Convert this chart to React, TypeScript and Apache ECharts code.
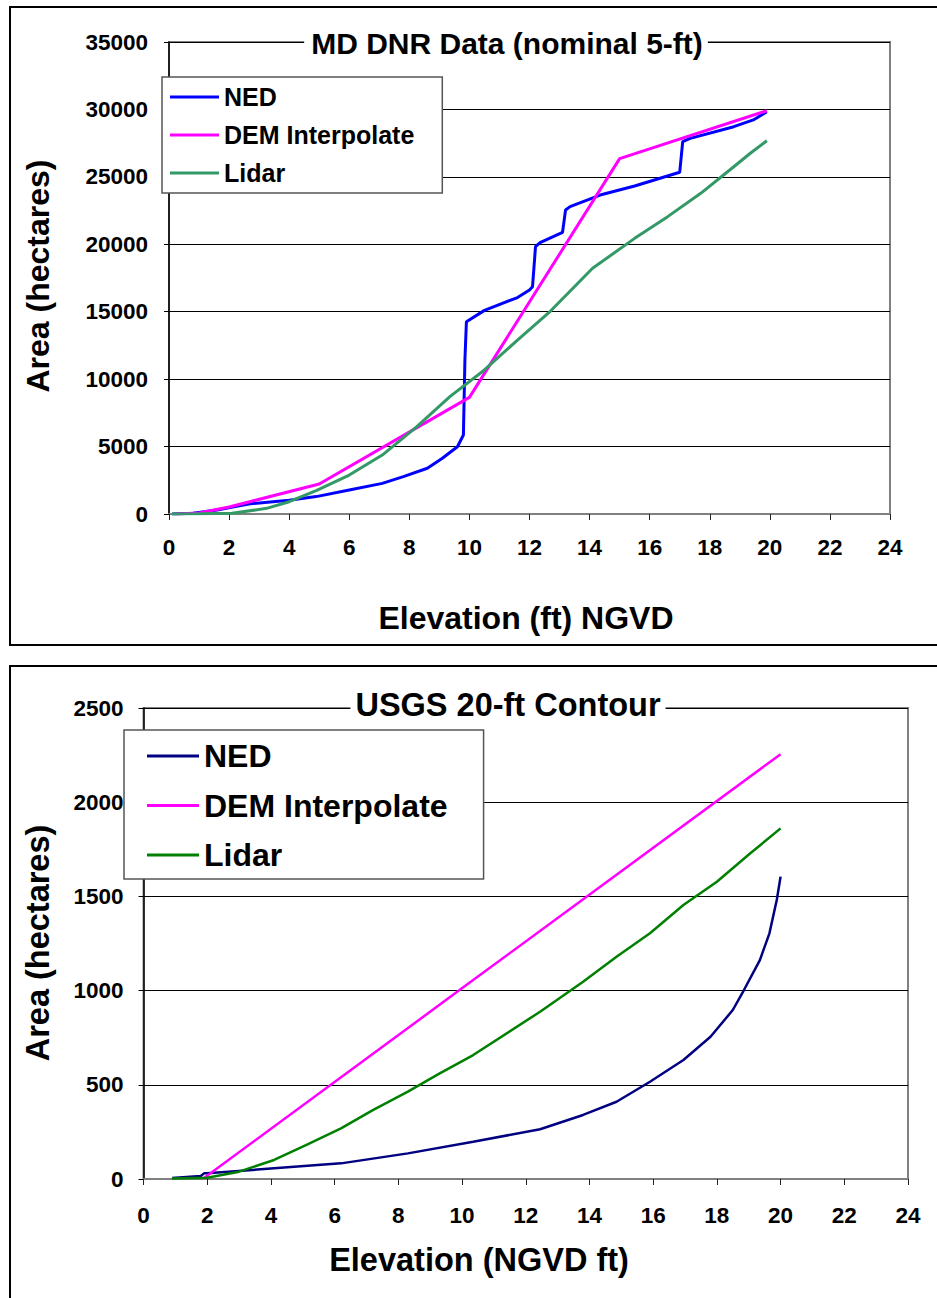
import React, { useEffect, useRef } from "react";
import * as echarts from "echarts";

const FONT = '"Liberation Sans", Arial, Helvetica, sans-serif';

// ---- Top chart (MD DNR Data) ----
const topTitle = "MD DNR Data (nominal 5-ft)";
const topXTitle = "Elevation (ft) NGVD";
const yTitle = "Area (hectares)";
const seriesNames = ["NED", "DEM Interpolate", "Lidar"];
const topColors = ["#0000FF", "#FF00FF", "#339966"];

const nedTop: number[][] = [
  [0.1, 0], [0.8, 60], [1.6, 300], [2.7, 760], [4.0, 1020], [4.9, 1290], [6.0, 1780],
  [7.1, 2270], [7.8, 2770], [8.6, 3390], [9.1, 4130], [9.6, 4990], [9.8, 5860],
  [9.85, 11420], [9.9, 14260], [10.5, 15100], [11.6, 16050], [12.0, 16610], [12.1, 16850],
  [12.2, 19820], [12.35, 20120], [13.1, 20890], [13.2, 22540], [13.35, 22790],
  [14.35, 23650], [15.5, 24320], [17.0, 25340], [17.1, 27610], [17.35, 27850],
  [18.8, 28720], [19.45, 29220], [19.9, 29830],
];
const demTop: number[][] = [
  [0.2, 0], [1.0, 80], [2.0, 520], [5.0, 2220], [10.0, 8650], [15.0, 26350], [19.9, 29900],
];
const lidarTop: number[][] = [
  [0.1, 0], [1.0, 10], [2.1, 50], [3.25, 420], [4.0, 910], [4.9, 1730], [6.0, 2890],
  [7.1, 4370], [8.25, 6480], [9.35, 8700], [10.5, 10680], [11.6, 12900], [12.7, 15050],
  [14.1, 18220], [15.5, 20440], [16.6, 22050], [17.7, 23780], [18.8, 25750],
  [19.35, 26750], [19.9, 27680],
];

// ---- Bottom chart (USGS 20-ft Contour) ----
const botTitle = "USGS 20-ft Contour";
const botXTitle = "Elevation (NGVD ft)";
const botColors = ["#000080", "#FF00FF", "#008000"];

const nedBot: number[][] = [
  [0.9, 5], [1.8, 16], [1.9, 30], [2.0, 30], [4.1, 57], [6.2, 83], [8.3, 136],
  [10.35, 198], [12.45, 264], [13.8, 340], [14.85, 410], [15.9, 516], [16.95, 632],
  [17.8, 755], [18.5, 897], [18.85, 1003], [19.35, 1162], [19.65, 1304], [19.88, 1481],
  [20.0, 1605],
];
const demBot: number[][] = [[1.9, 5], [9.9, 1000], [20.0, 2255]];
const lidarBot: number[][] = [
  [0.9, 3], [2.0, 7], [3.0, 39], [4.1, 101], [5.1, 180], [6.2, 269], [7.2, 366],
  [8.3, 464], [9.3, 561], [10.35, 658], [12.45, 888], [13.8, 1047], [14.85, 1180],
  [15.9, 1304], [16.95, 1454], [18.0, 1578], [19.05, 1729], [20.0, 1861],
];

const xMin = 0, xMax = 24, xInterval = 2;

type Cfg = {
  title: string; titleX: number; titleY: number; titleSize: number; titlePad: number[];
  xTitle: string; xTitleX: number; xTitleY: number;
  yTitleX: number; yTitleY: number; axisTitleSize: number;
  grid: { left: number; right: number; top: number; bottom: number };
  yMax: number; yInterval: number; tickSize: number; xLabelMargin: number; yLabelMargin: number;
  colors: string[]; data: number[][][]; lineWidth: number;
  legend: { left: number; top: number; fontSize: number; lineHeight: number; itemGap: number;
    itemWidth: number; padding: number[] };
  frame: { x: number; y: number; width: number; height: number };
};

function buildOption(c: Cfg): any {
  return {
    animation: false,
    backgroundColor: "#fff",
    textStyle: { fontFamily: FONT },
    grid: {
      ...c.grid,
      show: true,
      borderColor: "#808080",
      borderWidth: 2,
      backgroundColor: "transparent",
    },
    legend: {
      orient: "vertical",
      left: c.legend.left,
      top: c.legend.top,
      data: seriesNames,
      icon: "rect",
      itemWidth: c.legend.itemWidth,
      itemHeight: 3,
      itemGap: c.legend.itemGap,
      padding: c.legend.padding,
      backgroundColor: "#fff",
      borderColor: "#555",
      borderWidth: 1.5,
      textStyle: {
        fontFamily: FONT,
        fontWeight: "bold",
        fontSize: c.legend.fontSize,
        lineHeight: c.legend.lineHeight,
        color: "#000",
      },
      z: 20,
    },
    xAxis: {
      type: "value",
      min: xMin,
      max: xMax,
      interval: xInterval,
      axisLine: { show: true, onZero: false, lineStyle: { color: "#808080", width: 2 } },
      axisTick: { show: true, inside: false, length: 6, lineStyle: { color: "#222", width: 1 } },
      axisLabel: {
        margin: c.xLabelMargin,
        fontFamily: FONT,
        fontWeight: "bold",
        fontSize: c.tickSize,
        color: "#000",
        formatter: (v: number) => String(v),
      },
      splitLine: { show: false },
    },
    yAxis: {
      type: "value",
      min: 0,
      max: c.yMax,
      interval: c.yInterval,
      axisLine: { show: true, lineStyle: { color: "#000", width: 1.5 } },
      axisTick: { show: true, inside: false, length: 5, lineStyle: { color: "#000", width: 1 } },
      axisLabel: {
        margin: c.yLabelMargin,
        fontFamily: FONT,
        fontWeight: "bold",
        fontSize: c.tickSize,
        color: "#000",
        formatter: (v: number) => String(v),
      },
      splitLine: { show: true, lineStyle: { color: "#000", width: 1 } },
    },
    series: seriesNames.map((n, i) => ({
      name: n,
      type: "line",
      data: c.data[i],
      showSymbol: false,
      symbol: "none",
      color: c.colors[i],
      lineStyle: { color: c.colors[i], width: c.lineWidth },
      z: 5,
    })),
    graphic: [
      {
        type: "rect",
        z: 50,
        silent: true,
        shape: c.frame,
        style: { fill: "none", stroke: "#000", lineWidth: 2 },
      },
      {
        type: "text",
        z: 60,
        x: c.titleX,
        y: c.titleY,
        style: {
          text: c.title,
          fontFamily: FONT,
          fontWeight: "bold",
          fontSize: c.titleSize,
          fill: "#000",
          align: "center",
          verticalAlign: "middle",
          textAlign: "center",
          textVerticalAlign: "middle",
          backgroundColor: "#fff",
          padding: c.titlePad,
        },
      },
      {
        type: "text",
        z: 60,
        x: c.xTitleX,
        y: c.xTitleY,
        style: {
          text: c.xTitle,
          fontFamily: FONT,
          fontWeight: "bold",
          fontSize: c.axisTitleSize,
          fill: "#000",
          align: "center",
          verticalAlign: "middle",
          textAlign: "center",
          textVerticalAlign: "middle",
        },
      },
      {
        type: "text",
        z: 60,
        x: c.yTitleX,
        y: c.yTitleY,
        rotation: Math.PI / 2,
        style: {
          text: yTitle,
          fontFamily: FONT,
          fontWeight: "bold",
          fontSize: c.axisTitleSize,
          fill: "#000",
          align: "center",
          verticalAlign: "middle",
          textAlign: "center",
          textVerticalAlign: "middle",
        },
      },
    ],
  };
}

const topCfg: Cfg = {
  title: topTitle, titleX: 506, titleY: 43, titleSize: 30, titlePad: [0, 5, 0, 7],
  xTitle: topXTitle, xTitleX: 526, xTitleY: 618,
  yTitleX: 38, yTitleY: 276, axisTitleSize: 32,
  grid: { left: 169, right: 47, top: 42, bottom: 656 - 514 },
  yMax: 35000, yInterval: 5000, tickSize: 22.5, xLabelMargin: 22, yLabelMargin: 21,
  colors: topColors, data: [nedTop, demTop, lidarTop], lineWidth: 3,
  legend: { left: 162, top: 77, fontSize: 25, lineHeight: 30, itemGap: 8, itemWidth: 49,
    padding: [5, 28, 5, 8] },
  frame: { x: 10, y: 7, width: 940, height: 638 },
};

const OFF = 656;
const botCfg: Cfg = {
  title: botTitle, titleX: 508, titleY: 705 - OFF, titleSize: 32.5, titlePad: [0, 5],
  xTitle: botXTitle, xTitleX: 479, xTitleY: 1260 - OFF,
  yTitleX: 38, yTitleY: 943 - OFF, axisTitleSize: 32.5,
  grid: { left: 143.5, right: 29, top: 708 - OFF, bottom: 1298 - 1179 },
  yMax: 2500, yInterval: 500, tickSize: 22.5, xLabelMargin: 25, yLabelMargin: 20,
  colors: botColors, data: [nedBot, demBot, lidarBot], lineWidth: 2.5,
  legend: { left: 124, top: 730 - OFF, fontSize: 32, lineHeight: 38, itemGap: 11.5, itemWidth: 52,
    padding: [7, 36, 5, 23] },
  frame: { x: 10, y: 666 - OFF, width: 940, height: 660 },
};

function Chart({ cfg, top, height }: { cfg: Cfg; top: number; height: number }) {
  const ref = useRef<HTMLDivElement>(null);
  useEffect(() => {
    if (!ref.current) return;
    const chart = echarts.init(ref.current, undefined, { renderer: "svg" });
    chart.setOption(buildOption(cfg));
    return () => chart.dispose();
  }, [cfg]);
  return (
    <div
      ref={ref}
      style={{ position: "absolute", left: 0, top, width: 937, height }}
    />
  );
}

export default function App() {
  return (
    <div style={{ position: "absolute", left: 0, top: 0, width: 937, height: 1298, background: "#fff" }}>
      <Chart cfg={topCfg} top={0} height={OFF} />
      <Chart cfg={botCfg} top={OFF} height={1298 - OFF} />
    </div>
  );
}
